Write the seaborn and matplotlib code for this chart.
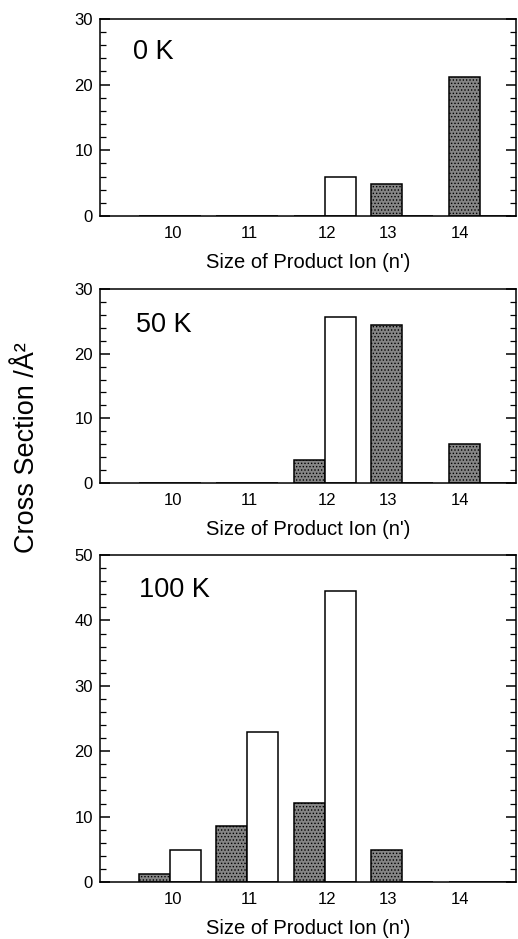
import matplotlib
matplotlib.use("Agg")
import matplotlib.pyplot as plt
from matplotlib.ticker import MultipleLocator
import numpy as np
import pandas as pd
import seaborn as sns

sns.set_theme(style="ticks")
plt.rcParams["font.family"] = ["Liberation Sans", "DejaVu Sans"]
plt.rcParams["hatch.linewidth"] = 0.6
for key in ["text.color", "axes.labelcolor", "xtick.color", "ytick.color"]:
    plt.rcParams[key] = "black"

# Product ion size n'
sizes = [10, 11, 12, 13, 14]
tick_labels = ["10", "11", "12", "13", "14"]
tick_pos = [10.04, 11.03, 12.03, 12.81, 13.74]

# Cross sections (Å^2) per temperature: shaded and open bars
shaded_0K = [0.0, 0.0, 0.0, 4.8, 21.2]
open_0K = [0.0, 0.0, 6.0, 0.0, 0.0]
shaded_50K = [0.0, 0.0, 3.6, 24.5, 6.0]
open_50K = [0.0, 0.0, 25.7, 0.0, 0.0]
shaded_100K = [1.3, 8.5, 12.1, 4.85, 0.0]
open_100K = [4.85, 23.0, 44.5, 0.0, 0.0]

panels = [
    ("0 K", shaded_0K, open_0K, 30, (0.079, 0.83)),
    ("50 K", shaded_50K, open_50K, 30, (0.087, 0.815)),
    ("100 K", shaded_100K, open_100K, 50, (0.094, 0.893)),
]

# axes boxes in figure fraction: left, bottom, width, height
boxes = [
    [0.193, 0.770, 0.803, 0.210],
    [0.193, 0.4856, 0.803, 0.2066],
    [0.193, 0.0607, 0.803, 0.3482],
]

fig = plt.figure(figsize=(5.18, 9.39), dpi=100)

for (label, shaded, opened, ymax, tpos), box in zip(panels, boxes):
    ax = fig.add_axes(box)
    rows = []
    for n, s, o in zip(sizes, shaded, opened):
        rows.append({"n": n, "kind": "shaded", "sigma": s})
        rows.append({"n": n, "kind": "open", "sigma": o})
    df = pd.DataFrame(rows)
    sns.barplot(
        data=df, x="n", y="sigma", hue="kind", hue_order=["shaded", "open"],
        palette={"shaded": "#858585", "open": "white"},
        native_scale=True, width=0.8, dodge=True, errorbar=None,
        edgecolor="black", linewidth=1.1, saturation=1, legend=False, ax=ax,
    )
    for bar in ax.containers[0]:
        bar.set_hatch(".....")
    ax.set_xlim(9.097, 14.465)
    ax.set_ylim(0, ymax)
    ax.set_xticks(tick_pos)
    ax.set_xticklabels(tick_labels, fontsize=12)
    ax.tick_params(axis="x", length=0, pad=7.5)
    ax.yaxis.set_major_locator(MultipleLocator(10))
    ax.yaxis.set_minor_locator(MultipleLocator(2))
    ax.tick_params(axis="y", which="major", direction="in", length=7,
                   width=1.1, left=True, right=True, labelsize=12, pad=5)
    ax.tick_params(axis="y", which="minor", direction="in", length=4,
                   width=0.9, left=True, right=True)
    for sp in ax.spines.values():
        sp.set_visible(True)
        sp.set_linewidth(1.1)
        sp.set_color("black")
    ax.set_xlabel("Size of Product Ion (n')", fontsize=14.5, labelpad=8.5)
    ax.set_ylabel("")
    ax.text(tpos[0], tpos[1], label, transform=ax.transAxes,
            fontsize=19.5, ha="left", va="center")

fig.text(27 / 518, 1 - 448 / 939, "Cross Section /Å²", rotation=90,
         fontsize=19.5, ha="center", va="center")

fig.savefig("out.png", dpi=100)
